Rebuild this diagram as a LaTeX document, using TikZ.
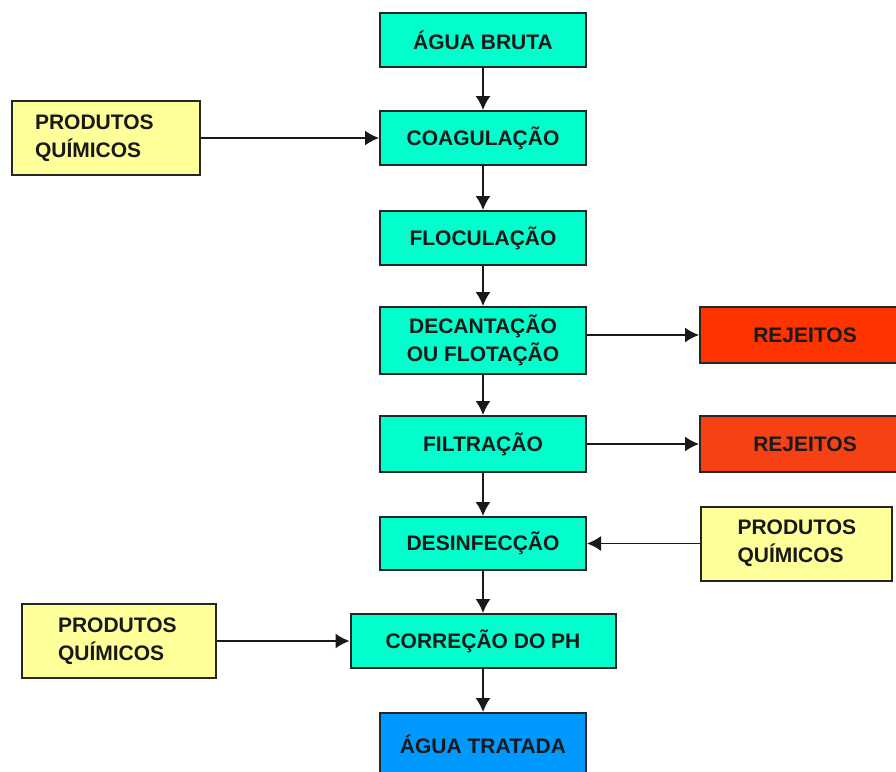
\documentclass[tikz,border=0pt]{standalone}
\usepackage{fontspec}
\setmainfont{Liberation Sans}
\usetikzlibrary{arrows.meta}
\tikzset{
  box/.style={rectangle,draw=black!85,line width=2pt,inner sep=0pt,text=black!90,
              font=\fontsize{21}{28}\selectfont\bfseries},
  stage/.style={box,fill=Tcol,minimum width=206pt,minimum height=54pt,align=center},
  chem/.style={box,fill=Ycol,minimum width=190pt,minimum height=74pt,align=left},
  waste/.style={box,fill=Rcol,minimum width=210pt,minimum height=56pt}
}

\begin{document}
\begin{tikzpicture}[x=1pt,y=-1pt]
    % Color definitions
    \definecolor{Tcol}{RGB}{0,255,204}
    \definecolor{Ycol}{RGB}{255,255,153}
    \definecolor{Rcol}{RGB}{255,51,0}
    \definecolor{Bcol}{RGB}{0,153,255}

    % Connector style
    \tikzstyle{flow}=[-{Latex[length=14pt,width=15pt]},line width=1.6pt,black!90]

    % Frame of the picture
    \clip (0,0) rectangle (896,771);

    % Treatment stages
    \node[stage] (bruta)   at (483,40)    {ÁGUA BRUTA};
    \node[stage] (coag)    at (483,138)   {COAGULAÇÃO};
    \node[stage] (floc)    at (483,238)   {FLOCULAÇÃO};
    \node[stage,minimum height=67pt] (decant) at (483,340.5) {DECANTAÇÃO\\OU FLOTAÇÃO};
    \node[stage,minimum height=56pt] (filt)   at (483,444)   {FILTRAÇÃO};
    \node[stage,minimum height=53pt] (desinf) at (483,543.5) {DESINFECÇÃO};
    \node[stage,minimum width=265pt] (correc) at (483,641)   {CORREÇÃO DO PH};
    \node[stage,fill=Bcol,minimum height=62pt] (tratada) at (483,744) {ÁGUA TRATADA};

    % Chemicals and wastes
    \node[chem,text width=142pt,minimum width=188pt] (quimA) at (106,138)   {PRODUTOS\\QUÍMICOS};
    \node[chem,text width=118pt,minimum width=191pt] (quimB) at (796.5,543.5) {PRODUTOS\\QUÍMICOS};
    \node[chem,text width=122pt,minimum width=194pt] (quimC) at (119,641)   {PRODUTOS\\QUÍMICOS};
    \node[waste] (rejA) at (805,335) {REJEITOS};
    \node[waste,fill=Rcol!92!white!96!black] (rejB) at (805,444) {REJEITOS};

    % Main line arrows
    \draw[flow] (bruta)  -- (coag);
    \draw[flow] (coag)   -- (floc);
    \draw[flow] (floc)   -- (decant);
    \draw[flow] (decant) -- (filt);
    \draw[flow] (filt)   -- (desinf);
    \draw[flow] (desinf) -- (correc);
    \draw[flow] (correc) -- (tratada);

    % Side arrows
    \draw[flow] (quimA) -- (coag);
    \draw[flow] (decant.east |- rejA) -- (rejA.west);
    \draw[flow] (filt) -- (rejB);
    \draw[flow] (quimB) -- (desinf);
    \draw[flow] (quimC) -- (correc);

\end{tikzpicture}
\end{document}
